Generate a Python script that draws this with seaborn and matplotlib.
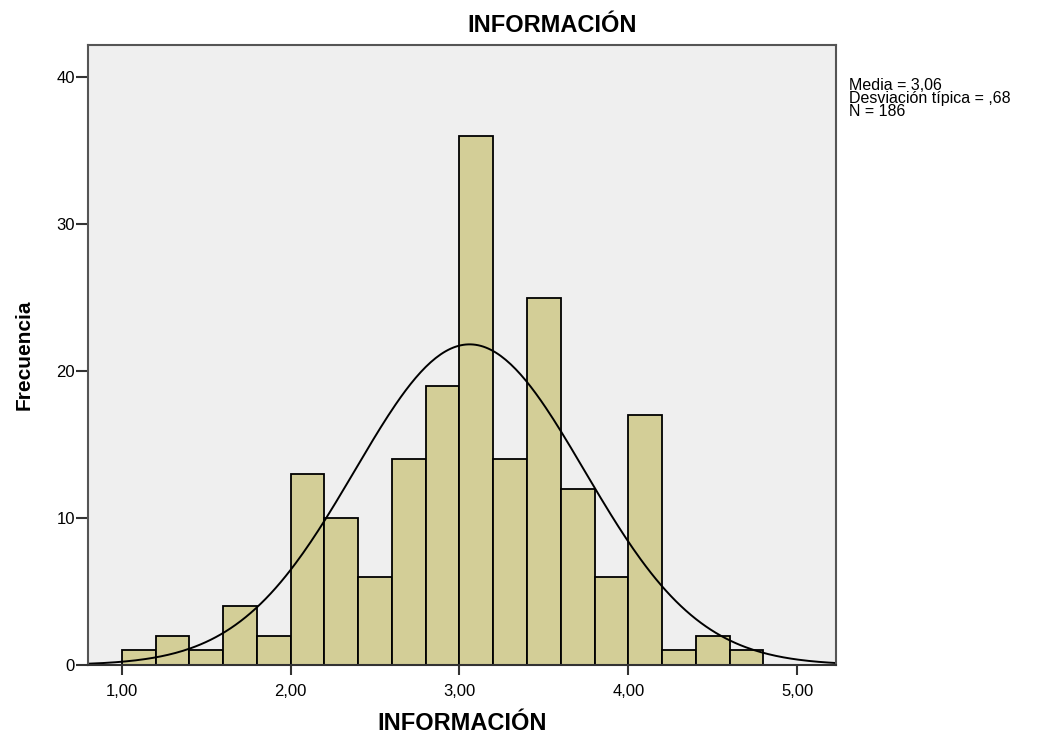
import numpy as np
import pandas as pd
import matplotlib
matplotlib.use('Agg')
import matplotlib.pyplot as plt
import seaborn as sns

# histogram bins (lower edge of each bar) and counts
bin_start = [1.0, 1.2, 1.4, 1.6, 1.8, 2.0, 2.2, 2.4, 2.6, 2.8,
             3.0, 3.2, 3.4, 3.6, 3.8, 4.0, 4.2, 4.4, 4.6]
counts = [1, 2, 1, 4, 2, 13, 10, 6, 14, 19,
          36, 14, 25, 12, 6, 17, 1, 2, 1]
bin_width = 0.2
media = 3.06
desv = 0.68
n_total = 186

xticks = [1.0, 2.0, 3.0, 4.0, 5.0]
xtick_labels = ['1,00', '2,00', '3,00', '4,00', '5,00']
yticks = [0, 10, 20, 30, 40]

sns.set_style('white')
plt.rcParams['font.family'] = ['Liberation Sans', 'DejaVu Sans']
plt.rcParams['text.color'] = 'black'
plt.rcParams['axes.labelcolor'] = 'black'
plt.rcParams['xtick.color'] = 'black'
plt.rcParams['ytick.color'] = 'black'

df = pd.DataFrame({'centro': np.array(bin_start) + bin_width / 2, 'n': counts})
edges = list(bin_start) + [bin_start[-1] + bin_width]

fig = plt.figure(figsize=(10.51, 7.35), dpi=100)
ax = fig.add_axes([88 / 1051, 1 - 665 / 735, (836 - 88) / 1051, (665 - 45) / 735])
ax.set_facecolor('#efefef')

sns.histplot(data=df, x='centro', weights='n', bins=edges, ax=ax,
             color='#d3ce97', alpha=1, edgecolor='black', linewidth=1.3)

# normal curve scaled to the histogram
xs = np.linspace(0.8, 5.23, 300)
ys = n_total * bin_width / (desv * np.sqrt(2 * np.pi)) * np.exp(-0.5 * ((xs - media) / desv) ** 2)
sns.lineplot(x=xs, y=ys, ax=ax, color='black', linewidth=1.4)

ax.set_xlim(0.8, 5.23)
ax.set_ylim(0, 42.2)
ax.set_xticks(xticks)
ax.set_xticklabels(xtick_labels)
ax.set_yticks(yticks)
ax.tick_params(axis='x', direction='out', length=7, width=1.5, color='#333333',
               labelsize=12, pad=7, bottom=True)
ax.tick_params(axis='y', direction='out', length=8.5, width=1.5, color='#333333',
               labelsize=12, pad=1, left=True)
for s in ax.spines.values():
    s.set_color('#555555')
    s.set_linewidth(1.5)
ax.spines['bottom'].set_color('#333333')

ax.set_xlabel('INFORMACIÓN', fontsize=17, fontweight='bold', labelpad=9)
ax.set_ylabel('Frecuencia', fontsize=15, fontweight='bold', labelpad=16)
fig.text(552 / 1051, 1 - 26 / 735, 'INFORMACIÓN', fontsize=17, fontweight='bold',
         ha='center', va='center')

fig.text(849 / 1051, 1 - 78 / 735,
         'Media = 3,06\nDesviación típica = ,68\nN = 186',
         fontsize=11.5, ha='left', va='top', linespacing=0.85)

plt.savefig('out.png', dpi=100)
